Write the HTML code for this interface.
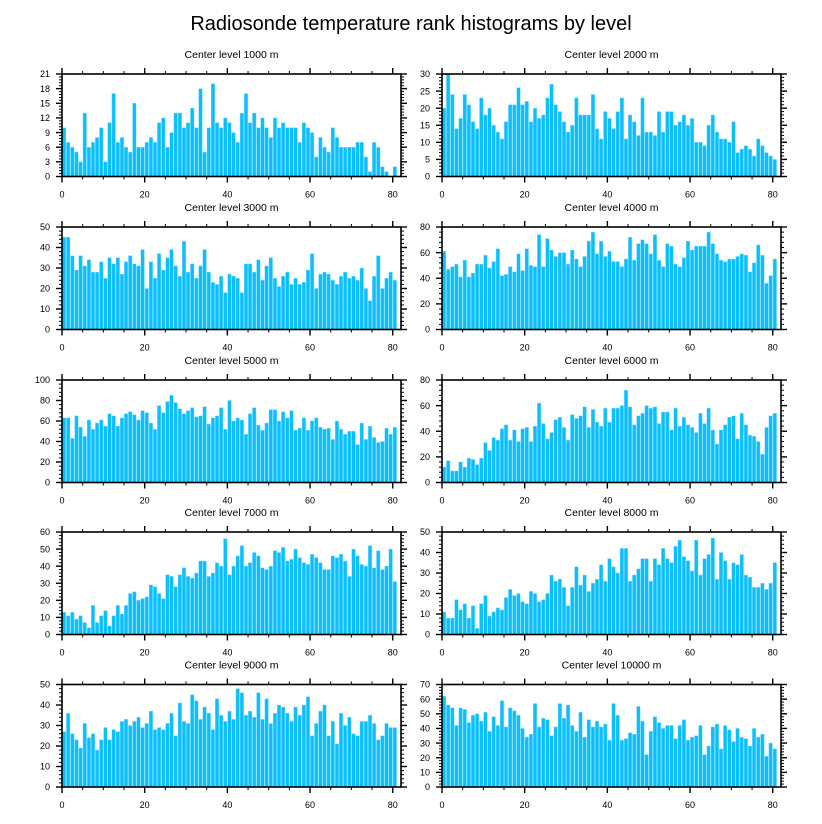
<!DOCTYPE html>
<html><head><meta charset="utf-8"><style>
html,body{margin:0;padding:0;background:#fff;}
svg{display:block;font-family:"Liberation Sans",sans-serif;}
</style></head><body>
<svg id="chart" width="822" height="824" viewBox="0 0 822 824" xmlns="http://www.w3.org/2000/svg">
<text x="411" y="30" font-size="20" text-anchor="middle" fill="#000">Radiosonde temperature rank histograms by level</text>
</svg>
<script>
const levels = ["1000","2000","3000","4000","5000","6000","7000","8000","9000","10000"];
const yMaxes = [21,30,50,80,100,80,60,50,50,70];
const yMajorSteps = [3,5,10,20,20,20,10,10,10,10];
const xTickLabels = [0,20,40,60,80];
const counts1000 = [10,7,6,5,3,13,6,7,8,10,3,11,17,7,8,6,5,15,6,6,7,8,7,11,12,6,9,13,13,10,11,14,10,18,5,10,19,11,10,12,11,9,7,13,17,11,13,10,12,10,8,12,10,11,10,10,10,7,11,10,9,4,8,6,5,10,8,6,6,6,6,7,7,4,1,7,6,2,1,0,2];
const counts2000 = [20,30,24,14,17,24,21,16,14,23,18,20,15,13,11,16,21,21,26,21,22,16,20,17,18,23,27,21,19,16,13,15,23,18,18,18,24,14,11,19,17,14,19,23,11,18,16,12,23,13,13,12,19,13,19,19,15,16,18,15,17,10,10,9,15,18,13,11,11,10,16,7,8,9,8,6,11,9,7,6,5];
const counts3000 = [45,45,36,29,36,31,34,28,28,33,25,35,32,35,27,33,36,32,31,39,20,33,25,37,29,35,39,31,26,43,28,32,25,31,39,28,23,22,26,18,27,26,25,18,32,32,28,34,24,31,35,25,21,26,28,22,25,22,23,29,37,20,27,28,27,24,22,26,28,25,26,24,30,20,14,26,36,20,25,28,24];
const counts4000 = [61,47,49,51,41,54,41,44,51,51,58,48,53,63,42,43,49,45,59,46,63,50,49,74,49,71,62,57,60,60,51,62,55,49,57,69,76,59,69,57,61,53,53,49,55,72,54,67,70,67,59,74,54,49,67,65,51,49,56,69,62,65,65,65,76,67,59,54,53,55,55,57,59,58,45,52,66,58,36,42,55];
const counts5000 = [63,63,43,65,54,45,61,52,58,61,55,67,65,55,63,67,69,66,61,70,68,58,52,75,68,79,85,78,72,67,70,73,64,65,74,57,63,65,73,52,80,60,63,61,47,67,73,56,51,58,71,71,60,69,63,70,51,53,63,51,60,63,54,52,53,42,60,52,47,50,50,37,58,42,55,44,39,40,53,47,54];
const counts6000 = [12,17,9,9,16,12,19,18,14,19,31,25,35,33,42,45,33,41,32,42,43,32,44,62,46,34,39,49,51,43,33,53,50,52,59,43,57,47,44,58,47,58,58,60,72,59,45,52,54,60,58,59,46,55,55,41,58,44,51,45,43,39,54,46,58,41,30,41,45,51,52,34,54,45,37,36,32,22,43,52,54];
const counts7000 = [13,11,13,9,11,7,4,17,7,11,14,5,11,17,12,17,24,25,20,21,22,29,28,24,21,35,34,28,35,39,34,33,36,43,43,34,36,42,40,56,35,40,46,52,40,42,48,46,39,38,40,49,48,51,43,44,50,45,42,41,47,45,42,38,38,46,45,47,43,34,50,46,41,40,52,39,49,38,40,50,31];
const counts8000 = [11,8,8,17,12,15,8,14,3,15,19,9,11,13,12,18,22,19,20,16,15,21,20,16,17,20,29,26,27,23,14,23,33,24,29,21,25,27,34,26,37,33,30,42,42,26,29,32,37,37,26,37,34,42,37,35,43,46,38,36,31,46,29,37,39,47,27,40,36,27,35,34,39,29,28,23,23,25,22,25,35];
const counts9000 = [27,36,26,23,19,31,24,26,18,23,29,23,28,27,32,33,30,32,34,29,31,37,28,29,28,31,36,25,41,32,31,45,42,33,39,36,28,43,35,32,37,33,48,46,35,37,34,46,33,43,31,36,40,39,36,32,39,35,40,44,25,31,37,40,25,32,21,36,30,34,26,25,32,32,35,31,23,25,31,29,29];
const counts10000 = [62,56,54,42,54,53,44,49,50,45,51,38,48,42,59,41,54,52,49,40,34,36,57,41,47,46,35,41,57,47,56,42,38,51,34,46,41,45,41,43,32,57,49,32,33,37,36,55,45,22,38,48,44,40,42,42,33,42,46,32,34,35,42,22,28,41,43,26,42,39,31,40,34,33,28,40,34,36,21,30,26];
const allCounts = [counts1000,counts2000,counts3000,counts4000,counts5000,counts6000,counts7000,counts8000,counts9000,counts10000];

const svg = document.getElementById('chart');
const NS = 'http://www.w3.org/2000/svg';
function mk(tag, attrs, parent){
  const e = document.createElementNS(NS, tag);
  for (const k in attrs) e.setAttribute(k, attrs[k]);
  parent.appendChild(e);
  return e;
}
const colX = [62, 442];
const rowY = [74, 227, 380, 532, 684.5];
const PW = 339, PH = 102.5, XMAX = 82;

for (let p = 0; p < 10; p++) {
  const x0 = colX[p % 2], y0 = rowY[Math.floor(p / 2)];
  const data = allCounts[p], ymax = yMaxes[p], step = yMajorSteps[p];
  const sx = v => x0 + v * PW / XMAX;
  const sy = v => y0 + PH - v * PH / ymax;
  const g = mk('g', {}, svg);
  
  
  const t = mk('text', {x: x0 + PW / 2, y: y0 - 16, 'font-size': 10.5, 'text-anchor': 'middle', fill: '#000'}, g);
  
  
  t.textContent = 'Center level ' + levels[p] + ' m';
  for (let i = 0; i < data.length; i++) {
    const r = mk('rect', {x: sx(i) + 0.3, y: sy(data[i]), width: PW / XMAX - 0.6, height: sy(0) - sy(data[i]), fill: '#0ABFFB', stroke: '#7FDCFF', 'stroke-width': 0.4}, g);
    
    
  }
  const fr = mk('rect', {x: x0, y: y0, width: PW, height: PH, fill: 'none', stroke: '#000', 'stroke-width': 1.6}, g);
  
  
  // x ticks
  for (let v = 0; v <= 80; v += 5) {
    const major = v % 20 === 0, len = major ? 6 : 3;
    mk('line', {x1: sx(v), x2: sx(v), y1: y0 + PH, y2: y0 + PH + len, stroke: '#000', 'stroke-width': major ? 1.4 : 1}, g);
    mk('line', {x1: sx(v), x2: sx(v), y1: y0, y2: y0 - len, stroke: '#000', 'stroke-width': major ? 1.4 : 1}, g);
  }
  for (const v of xTickLabels) {
    const l = mk('text', {x: sx(v), y: y0 + PH + 21, 'font-size': 9, 'text-anchor': 'middle', fill: '#000'}, g);
    
    
    l.textContent = v;
  }
  // y ticks
  const minor = step / 5;
  for (let k = 0; k * minor <= ymax + 1e-9; k++) {
    const v = k * minor, major = k % 5 === 0, len = major ? 6 : 3;
    mk('line', {x1: x0, x2: x0 - len, y1: sy(v), y2: sy(v), stroke: '#000', 'stroke-width': major ? 1.4 : 1}, g);
    mk('line', {x1: x0 + PW, x2: x0 + PW + len, y1: sy(v), y2: sy(v), stroke: '#000', 'stroke-width': major ? 1.4 : 1}, g);
  }
  for (let v = 0; v <= ymax + 1e-9; v += step) {
    const l = mk('text', {x: x0 - 12, y: sy(v) + 3.2, 'font-size': 9, 'text-anchor': 'end', fill: '#000'}, g);
    
    
    l.textContent = v;
  }
}
</script>
</body></html>
